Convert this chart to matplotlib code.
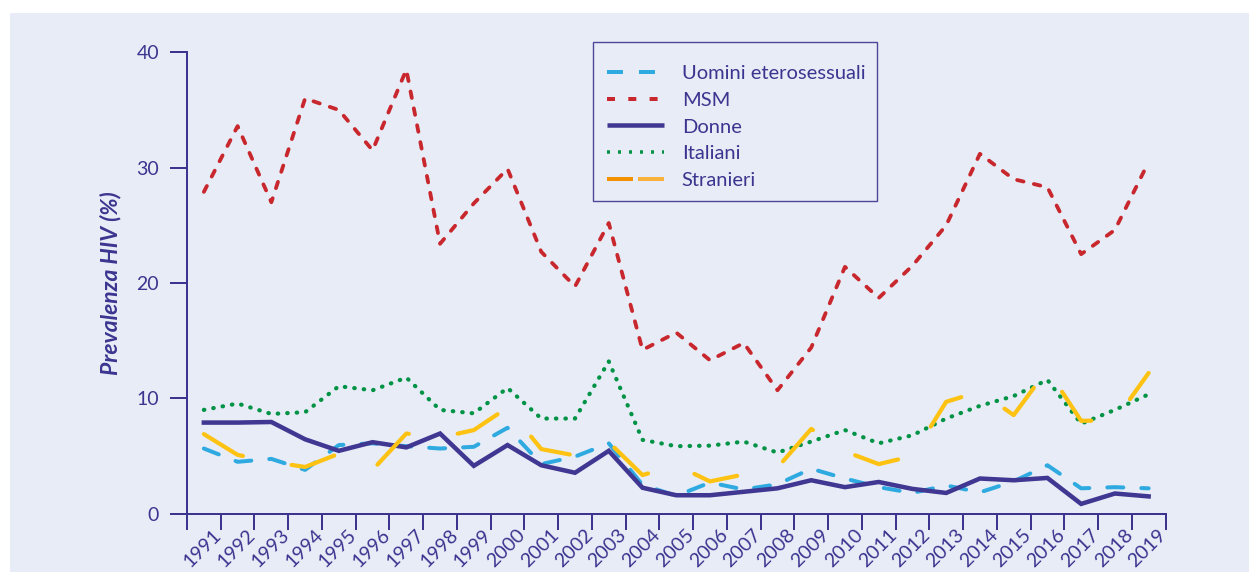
import numpy as np
import matplotlib
matplotlib.use("Agg")
import matplotlib.pyplot as plt
from matplotlib.lines import Line2D
from matplotlib.patches import Rectangle
from matplotlib.legend_handler import HandlerBase
import matplotlib.transforms as mtransforms

plt.rcParams['font.family'] = ['Lato', 'DejaVu Sans']
plt.rcParams['lines.scale_dashes'] = False

# ---------------- data ----------------
years = list(range(1991, 2020))
uomini = [5.65, 4.5, 4.75, 3.8, 5.95, 6.1, 5.85, 5.65, 5.8, 7.45, 4.3, 4.95, 6.1, 2.5,
          1.55, 2.7, 2.1, 2.55, 3.9, 3.05, 2.3, 1.8, 2.45, 1.85, 2.8, 4.2, 2.2, 2.3, 2.2]
msm = [27.9, 33.6, 27.0, 36.0, 35.0, 31.5, 38.5, 23.4, 26.9, 29.9, 22.7, 19.7, 25.2, 14.2,
       15.7, 13.3, 14.8, 10.7, 14.4, 21.4, 18.7, 21.5, 25.0, 31.2, 29.0, 28.3, 22.5, 24.6, 30.5]
donne = [7.9, 7.9, 7.95, 6.45, 5.45, 6.2, 5.75, 6.95, 4.15, 5.95, 4.2, 3.55, 5.45, 2.25,
         1.6, 1.6, 1.9, 2.2, 2.9, 2.3, 2.75, 2.15, 1.8, 3.05, 2.9, 3.1, 0.85, 1.75, 1.5]
italiani = [9.0, 9.55, 8.65, 8.8, 11.05, 10.7, 11.8, 9.0, 8.7, 10.9, 8.25, 8.25, 13.2, 6.4,
            5.85, 5.9, 6.25, 5.3, 6.25, 7.25, 6.1, 6.8, 8.25, 9.35, 10.2, 11.6, 7.8, 9.0, 10.35]
stranieri = [6.9, 5.1, 4.5, 4.05, 5.2, 3.8, 6.95, 6.6, 7.25, 9.2, 5.6, 5.05, 6.2, 3.35,
             4.2, 2.8, 3.4, 4.0, 7.35, 5.4, 4.3, 5.0, 9.7, 10.6, 8.55, 12.5, 8.05, 8.1, 12.2]
series_labels = ["Uomini eterosessuali", "MSM", "Donne", "Italiani", "Stranieri"]
y_ticks = [0, 10, 20, 30, 40]
y_label = "Prevalenza HIV (%)"

# ---------------- style ----------------
W, H = 1249, 572
PX = 0.72  # points per pixel at dpi 100
C_AX = '#3b3590'
C_BG = '#e8ecf6'
C_BLUE = '#2faae1'
C_RED = '#c8282d'
C_DONNE = '#3f3791'
C_GREEN = '#009245'
C_YELLOW = '#fdc212'
C_OR1 = '#f39200'
C_OR2 = '#f8b13a'

fig = plt.figure(figsize=(W / 100, H / 100), dpi=100, facecolor='white')
fig.patches.append(Rectangle((10 / W, 0), 1, (H - 13) / H, transform=fig.transFigure,
                             facecolor=C_BG, edgecolor='none', zorder=-10))

left, right = 187, 1165.5
top, bottom = 52.3, 513.7
ax = fig.add_axes([left / W, (H - bottom) / H, (right - left) / W, (bottom - top) / H])
ax.set_facecolor('none')

x = np.arange(len(years))
ax.plot(x, uomini, color=C_BLUE, lw=4 * PX, dashes=(16 * PX, 18 * PX),
        dash_capstyle='round', solid_joinstyle='round', zorder=3)
ax.plot(x, msm, color=C_RED, lw=3.8 * PX, dashes=(6.6 * PX, 10.6 * PX),
        dash_capstyle='round', dash_joinstyle='round', zorder=3)
ax.plot(x, donne, color=C_DONNE, lw=4.5 * PX, solid_joinstyle='miter', zorder=4)
ax.plot(x, italiani, color=C_GREEN, lw=4.2 * PX, dashes=(0.5 * PX, 9 * PX),
        dash_capstyle='round', zorder=4)
ax.plot(x, stranieri, color=C_YELLOW, lw=4.2 * PX, dashes=(45 * PX, 49.5 * PX),
        dash_capstyle='round', dash_joinstyle='round', zorder=5)

ax.set_xlim(-0.5, len(years) - 0.5)
ax.set_ylim(0, 40)
for s in ['top', 'right']:
    ax.spines[s].set_visible(False)
for s in ['left', 'bottom']:
    ax.spines[s].set_color(C_AX)
    ax.spines[s].set_linewidth(2 * PX)

ax.set_yticks(y_ticks)
ax.set_yticklabels([str(t) for t in y_ticks])
ax.tick_params(axis='y', length=17 * PX, width=2 * PX, color=C_AX, labelcolor=C_AX,
               labelsize=14, pad=11 * PX)

ax.set_xticks(np.arange(-0.5, len(years), 1.0))
ax.set_xticklabels([])
ax.tick_params(axis='x', which='major', length=16 * PX, width=2 * PX, color=C_AX)
ax.set_xticks(x, minor=True)
ax.set_xticklabels([str(y) for y in years], minor=True, rotation=45, ha='right',
                   va='top', rotation_mode='anchor')
ax.tick_params(axis='x', which='minor', length=0, labelcolor=C_AX, labelsize=14, pad=9)
off = mtransforms.ScaledTranslation(9 / 100, 0, fig.dpi_scale_trans)
for lab in ax.get_xticklabels(minor=True):
    lab.set_transform(lab.get_transform() + off)

ax.set_ylabel(y_label, fontstyle='italic', fontweight='bold', fontsize=16.5, color=C_AX)
ax.yaxis.set_label_coords((121 - left) / (right - left), 0.5)

# ---------------- legend ----------------
class HandlerTwoTone(HandlerBase):
    def create_artists(self, legend, orig_handle, xdescent, ydescent, width, height,
                       fontsize, trans):
        y = (height - ydescent) / 2
        x0 = -xdescent
        l1 = Line2D([x0, x0 + width * 0.453], [y, y], color=C_OR1, lw=4 * PX,
                    solid_capstyle='butt', transform=trans)
        l2 = Line2D([x0 + width * 0.547, x0 + width], [y, y], color=C_OR2, lw=4 * PX,
                    solid_capstyle='butt', transform=trans)
        return [l1, l2]

h_blue = Line2D([], [], color=C_BLUE, lw=4 * PX, dashes=(16 * PX, 16 * PX),
                dash_capstyle='butt')
h_red = Line2D([], [], color=C_RED, lw=4 * PX, dashes=(8 * PX, 13.3 * PX),
               dash_capstyle='butt')
h_donne = Line2D([], [], color=C_DONNE, lw=4.5 * PX, solid_capstyle='butt')
h_green = Line2D([], [], color=C_GREEN, lw=3.5 * PX, dashes=(3 * PX, 8 * PX),
                 dash_capstyle='butt')
h_str = Line2D([], [], color=C_OR1)

fs = 14.5
fs_px = fs / PX
leg = ax.legend([h_blue, h_red, h_donne, h_green, h_str], series_labels,
                handler_map={h_str: HandlerTwoTone()},
                loc='upper left', bbox_to_anchor=(606.7 / W, 1 - 64.5 / H),
                bbox_transform=fig.transFigure, frameon=False, borderpad=0,
                borderaxespad=0, handlelength=57 / fs_px, handletextpad=18 / fs_px,
                labelspacing=0.49, fontsize=fs, labelcolor=C_AX)
fig.patches.append(Rectangle((593.3 / W, 1 - 200.7 / H), (876.7 - 593.3) / W,
                             (200.7 - 42.3) / H, transform=fig.transFigure,
                             facecolor='none', edgecolor='#4d469b', lw=1.4 * PX, zorder=5))

fig.savefig('out.png', dpi=100, facecolor='white')
